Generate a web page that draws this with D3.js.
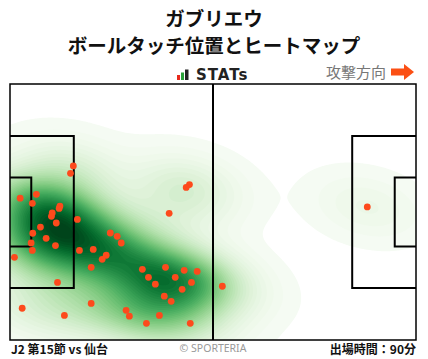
<!DOCTYPE html>
<html><head><meta charset="utf-8">
<script src="https://cdn.jsdelivr.net/npm/d3@7"></script>
<style>
body{margin:0;background:#fff;}
svg{display:block;font-family:"Noto Sans CJK JP","Noto Sans",sans-serif;}
</style>
</head><body>
<svg id="chart" width="428" height="359"></svg>
<script>
// ---------- data ----------
const titleLines = ["ガブリエウ", "ボールタッチ位置とヒートマップ"];
const brandLabel = "STATs";
const directionLabel = "攻撃方向";
const footerLeft = "J2 第15節 vs 仙台";
const footerRight = "出場時間：90分";
const creditLabel = "© SPORTERIA";

// ball touches, pitch coordinates 0-100 (x: attacking to the right, y: top to bottom)
const touchX = [15.6,14.9,6.5,2.5,5.5,12.3,12.1,10.4,10.2,16.6,11.4,7.5,5.6,8.9,5.2,11.2,
  24.7,26.4,27.4,44.2,43.4,39.2,5.5,1.1,17.1,20.5,23.7,22.7,20.0,11.7,20.0,3.0,13.4,
  32.6,38.3,34.1,42.9,46.1,40.7,35.8,44.7,42.4,38.0,39.7,28.6,29.4,36.8,33.6,44.4,52.3,88.0];
const touchY = [32.0,34.9,43.1,44.6,46.6,47.7,48.6,50.4,51.7,52.9,54.3,55.9,58.3,60.3,62.1,63.1,
  58.2,59.5,62.1,39.3,40.4,50.5,65.0,67.7,65.0,64.6,66.9,68.5,71.6,77.5,85.7,87.6,90.4,
  72.4,71.6,75.5,72.8,73.2,75.5,78.2,77.5,80.2,82.9,84.9,88.4,90.7,90.4,93.5,93.5,79.0,48.0];

// pitch dimensions (metres)
const pitchSize = [105, 68];
const penaltyArea = [16.5, 40.32];
const goalArea = [5.5, 18.32];

// ---------- drawing ----------
const svg = d3.select("#chart");
const pL = 10, pR = 416, pT = 84, pB = 340;
const x = d3.scaleLinear().domain([0, 100]).range([pL, pR]);
const y = d3.scaleLinear().domain([0, 100]).range([pT, pB]);
const xm = d3.scaleLinear().domain([0, pitchSize[0]]).range([pL, pR]);
const ym = d3.scaleLinear().domain([0, pitchSize[1]]).range([pT, pB]);

// title
svg.selectAll("text.title").data(titleLines).join("text")
  .attr("class", "title")
  .attr("x", 214).attr("y", (d, i) => 26 + i * 26.5)
  .attr("text-anchor", "middle")
  .attr("font-size", 19.5).attr("font-weight", 700).attr("fill", "#111")
  .text(d => d);

// STATs brand
const brandBars = [[177, 75, 3, 5, "#e8291c"], [181, 72.5, 3, 7.5, "#2aa13a"], [185, 69.5, 3.5, 10.5, "#222"]];
svg.selectAll("rect.brand").data(brandBars).join("rect")
  .attr("x", d => d[0]).attr("y", d => d[1]).attr("width", d => d[2]).attr("height", d => d[3])
  .attr("fill", d => d[4]);
svg.append("text").attr("x", 196).attr("y", 80)
  .attr("font-family", "DejaVu Sans").attr("font-weight", 700).attr("font-size", 15)
  .attr("letter-spacing", 1).attr("fill", "#222").text(brandLabel);

// direction
svg.append("text").attr("x", 326).attr("y", 78)
  .attr("font-size", 15).attr("fill", "#777").text(directionLabel);
svg.append("path")
  .attr("d", "M391,68.5 L404,68.5 L404,64 L414,72 L404,80 L404,75.5 L391,75.5 Z")
  .attr("fill", "#fb4f14");

// heatmap: gaussian KDE with data covariance (Scott's rule)
const pts = touchX.map((v, i) => [v, touchY[i]]);
const n = pts.length;
const mx = d3.mean(touchX), my = d3.mean(touchY);
let sxx = 0, syy = 0, sxy = 0;
pts.forEach(([a, b]) => { sxx += (a - mx) ** 2; syy += (b - my) ** 2; sxy += (a - mx) * (b - my); });
const fac = Math.pow(n, -1 / 6) ** 2 / (n - 1);
const cxx = sxx * fac, cyy = syy * fac, cxy = sxy * fac;
const det = cxx * cyy - cxy * cxy;
const ixx = cyy / det, iyy = cxx / det, ixy = -cxy / det;
const step = 0.5, g0 = -3, gN = Math.round(106 / step);
const values = new Float64Array(gN * gN);
for (let j = 0; j < gN; j++) {
  const gy = g0 + j * step;
  for (let i = 0; i < gN; i++) {
    const gx = g0 + i * step;
    let s = 0;
    for (const [a, b] of pts) {
      const dx = gx - a, dy = gy - b;
      s += Math.exp(-0.5 * (ixx * dx * dx + 2 * ixy * dx * dy + iyy * dy * dy));
    }
    values[j * gN + i] = s;
  }
}
const hi = d3.max(values);
const lo = 0.13;
const nLevels = 45;
const thresholds = d3.range(nLevels).map(i => lo + (hi - lo) * i / nLevels);
const color = d3.scaleSequential(d3.interpolateGreens).domain([0, hi * 0.97]);
const contours = d3.contours().size([gN, gN]).thresholds(thresholds)(values);

const defs = svg.append("defs");
defs.append("clipPath").attr("id", "pitchClip").append("rect")
  .attr("x", pL).attr("y", pT).attr("width", pR - pL).attr("height", pB - pT);
const tx = x(g0 - step / 2), ty = y(g0 - step / 2);
const sx = x(step) - x(0), sy = y(step) - y(0);
svg.append("g").attr("clip-path", "url(#pitchClip)")
  .append("g").attr("transform", `translate(${tx},${ty}) scale(${sx},${sy})`)
  .selectAll("path").data(contours).join("path")
  .attr("d", d3.geoPath())
  .attr("fill", d => color(d.value));

// pitch lines
const lines = svg.append("g").attr("fill", "none").attr("stroke", "#000").attr("stroke-width", 2);
lines.append("rect").attr("x", pL).attr("y", pT).attr("width", pR - pL).attr("height", pB - pT)
  .attr("stroke-width", 1.5);
lines.append("line").attr("x1", xm(pitchSize[0] / 2)).attr("x2", xm(pitchSize[0] / 2))
  .attr("y1", pT).attr("y2", pB);
const boxes = [
  [0, penaltyArea], [0, goalArea],
  [1, penaltyArea], [1, goalArea]
];
lines.selectAll("path.box").data(boxes).join("path")
  .attr("d", ([side, dim]) => {
    const y0 = ym((pitchSize[1] - dim[1]) / 2), y1 = ym((pitchSize[1] + dim[1]) / 2);
    const xe = side === 0 ? xm(0) : xm(pitchSize[0]);
    const xi = side === 0 ? xm(dim[0]) : xm(pitchSize[0] - dim[0]);
    return `M${xe},${y0} L${xi},${y0} L${xi},${y1} L${xe},${y1}`;
  });

// touches
svg.append("g").selectAll("circle").data(pts).join("circle")
  .attr("cx", d => x(d[0])).attr("cy", d => y(d[1])).attr("r", 3.4)
  .attr("fill", "#fd4a1c");

// footer
svg.append("text").attr("x", 11).attr("y", 354).attr("font-size", 12).attr("font-weight", 700)
  .attr("fill", "#111").text(footerLeft);
svg.append("text").attr("x", 416).attr("y", 354).attr("text-anchor", "end").attr("font-size", 12)
  .attr("font-weight", 700).attr("fill", "#111").text(footerRight);
svg.append("text").attr("x", 213).attr("y", 352).attr("text-anchor", "middle").attr("font-size", 10.5)
  .attr("font-family", "Noto Sans").attr("fill", "#999").text(creditLabel);
</script>
</body></html>
